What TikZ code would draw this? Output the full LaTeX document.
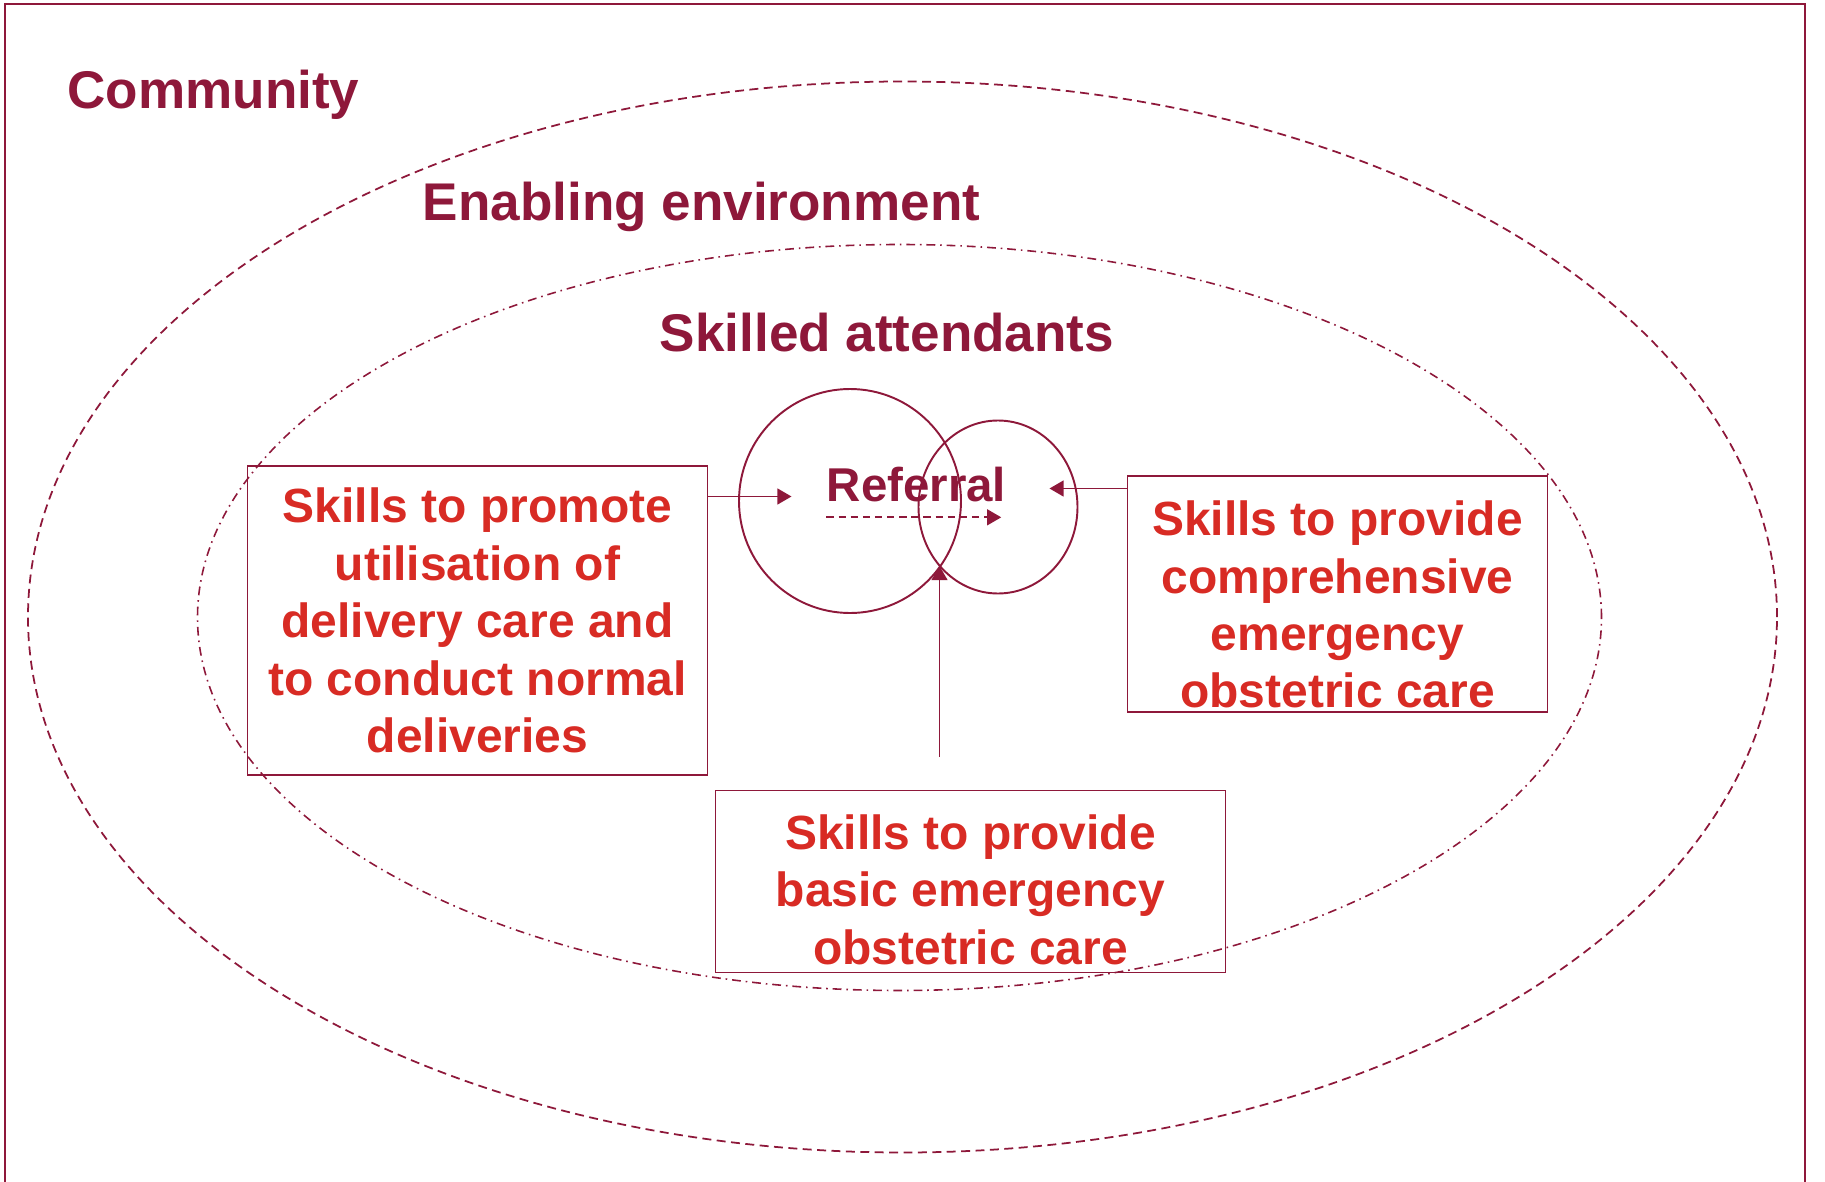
\documentclass[tikz,border=0pt]{standalone}
\usepackage{fontspec}
\setmainfont{Liberation Sans}
\usetikzlibrary{arrows.meta}
\definecolor{maroon}{RGB}{142,24,58}
\definecolor{skillred}{RGB}{216,43,36}

\begin{document}
\begin{tikzpicture}[
	heading/.style={font=\fontsize{30.2}{36}\selectfont\bfseries, text=maroon, inner sep=0pt, anchor=base},
	skillbox/.style={draw=maroon, line width=1.1pt, align=center, inner sep=0pt, text=skillred, font=\fontsize{27.3}{32.7}\selectfont\bfseries},
	arr/.style={draw=maroon, line width=1.1pt, -{Triangle[length=8pt,width=9pt]}},
	]
	\useasboundingbox (0,0) rectangle (36.5,-23.64);
	\draw[maroon, line width=1.2pt] (0.1,-24.5) -- (0.1,-0.08) -- (36.1,-0.08) -- (36.1,-24.5);
	
	\node (comm) at (18.05,-12.34) {};
	\node (env) at (17.99,-12.35) {};
	\draw[maroon, line width=1pt, dash pattern=on 5.1pt off 3.1pt] (comm) ellipse (17.49 and 10.71);
	\draw[maroon, line width=0.9pt, dash pattern=on 5pt off 2.8pt on 0.9pt off 2.8pt] (env) ellipse (14.04 and 7.46);
	
	\node (c1) at (17.0,-10.02) {};
	\node (c2) at (19.96,-10.14) {};
	\draw[maroon, line width=1.1pt] (c1) ellipse (2.22 and 2.24);
	\draw[maroon, line width=1.1pt] (c2) ellipse (1.59 and 1.73);
	
	\node[heading] (community) at (4.27,-2.17) {Community};
	\node[heading] (enabling) at (14.03,-4.40) {Enabling environment};
	\node[heading] (skilled) at (17.74,-7.02) {Skilled attendants};
	\node[heading, font=\fontsize{27}{32}\selectfont\bfseries] (referral) at (18.33,-10.03) {Referral};
	
	\node[skillbox, minimum width=9.2cm, minimum height=6.19cm] (promote) at (9.55,-12.41) {Skills to promote\\utilisation of\\delivery care and\\to conduct normal\\deliveries};
	\node[skillbox, minimum width=8.4cm, minimum height=4.73cm] (comprehensive) at (26.75,-11.88) {\rule{0pt}{31.9pt}Skills to provide\\comprehensive\\emergency\\obstetric care};
	\node[skillbox, minimum width=10.2cm, minimum height=3.64cm] (basic) at (19.41,-17.63) {\rule{0pt}{29.1pt}Skills to provide\\basic emergency\\obstetric care};
	
	\coordinate (inL) at (15.83,-9.93);
	\coordinate (inR) at (20.99,-9.77);
	\coordinate (inB) at (18.79,-11.32);
	
	\draw[arr] (promote.east |- inL) -- (inL);
	\draw[arr] (comprehensive.west |- inR) -- (inR);
	\draw[arr, shorten <=18.8pt] (basic.north -| inB) -- (inB);
	\draw[arr, line width=1pt, dash pattern=on 4.2pt off 2.7pt] ([yshift=-9pt]referral.base west) -- ([shift={(-3pt,-9pt)}]referral.base east);
\end{tikzpicture}
\end{document}
